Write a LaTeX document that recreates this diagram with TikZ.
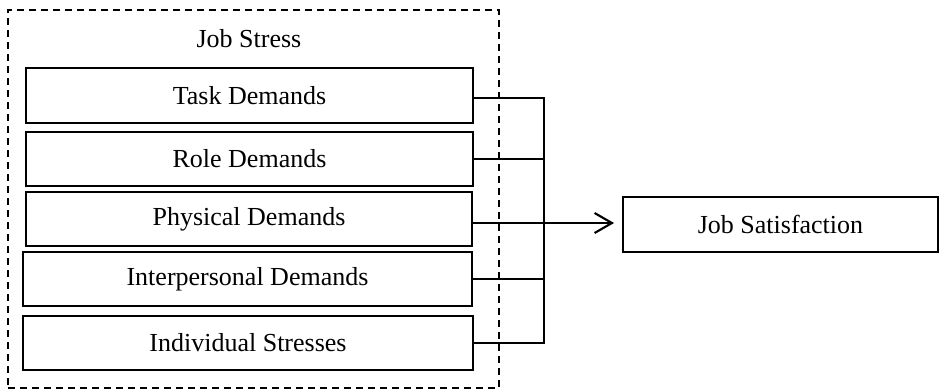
\documentclass[tikz,border=0pt]{standalone}
\usepackage{fontspec}
\setmainfont{Liberation Serif}
\usetikzlibrary{arrows.meta}
\begin{document}
\begin{tikzpicture}[x=0.75pt,y=-0.75pt,
  every node/.style={font=\fontsize{19.5}{22}\selectfont},
  box/.style={draw, line width=1.4pt, inner sep=0pt, rectangle},
  group/.style={draw, line width=1.3pt, dash pattern=on 5.5pt off 3.5pt, inner sep=0pt, rectangle},
  conn/.style={line width=1.3pt},
  arr/.style={line width=1.6pt, -{Straight Barb[length=13pt,width=15pt,line width=1.6pt]}, shorten >=6pt}]
\useasboundingbox (0,0) rectangle (940,389);
\node[group, minimum width={491*0.75pt}, minimum height={378*0.75pt}] (stress) at (253.5,199) {};
\node (stresslabel) at (249,39) {Job Stress};
\node[box, minimum width={447*0.75pt}, minimum height={55*0.75pt}] (task) at (249.5,95.5) {Task Demands};
\node[box, minimum width={447*0.75pt}, minimum height={54*0.75pt}] (role) at (249.5,159) {Role Demands};
\node[box, minimum width={446*0.75pt}, minimum height={54*0.75pt}] (phys) at (249,219) {Physical Demands};
\node[box, minimum width={449*0.75pt}, minimum height={54*0.75pt}] (inter) at (247.5,279) {Interpersonal Demands};
\node[box, minimum width={450*0.75pt}, minimum height={54*0.75pt}] (indiv) at (248,343) {Individual Stresses};
\node[box, minimum width={315*0.75pt}, minimum height={55*0.75pt}] (sat) at (780.5,224.5) {Job Satisfaction};
\coordinate (bus) at (544,0);
\coordinate (ty) at (0,98);
\coordinate (ay) at (0,223);
\draw[conn] (task.east |- ty) -- (bus |- ty) -- (indiv.east -| bus) -- (indiv.east);
\draw[conn] (role.east) -- (role.east -| bus);
\draw[conn] (inter.east) -- (inter.east -| bus);
\draw[arr] (phys.east |- ay) -- (sat.west |- ay);
\end{tikzpicture}
\end{document}
